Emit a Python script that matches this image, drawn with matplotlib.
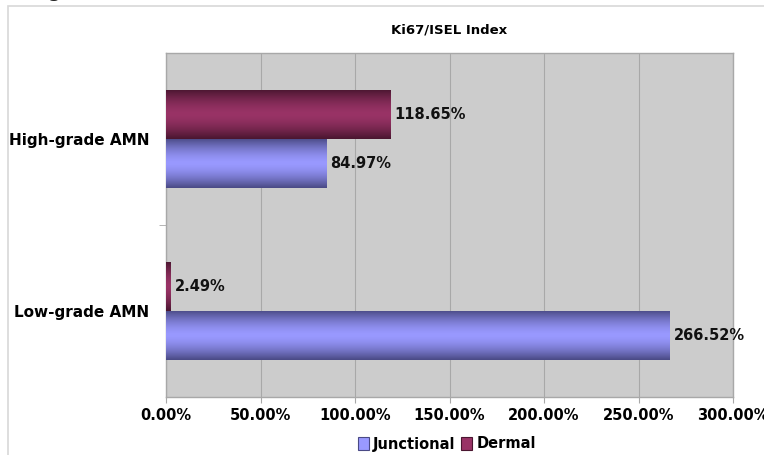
import numpy as np
import matplotlib.pyplot as plt
from matplotlib.colors import to_rgb
from matplotlib.patches import Rectangle, Patch

categories = ["Low-grade AMN", "High-grade AMN"]
series_names = ["Junctional", "Dermal"]
junctional = [266.52, 84.97]
dermal = [2.49, 118.65]
xticks = [0, 50, 100, 150, 200, 250, 300]

base_colors = {"Junctional": "#9999ff", "Dermal": "#993366"}
edge_colors = {"Junctional": "#4a4a85", "Dermal": "#4a1630"}

fig = plt.figure(figsize=(7.64, 4.55), dpi=100)
W, H = 764, 455

# outer chart frame
fig.patches.append(Rectangle((8 / W, -0.1), 1.2, 1.1 - 6 / H, transform=fig.transFigure,
                             facecolor="white", edgecolor="#d8d8d8", lw=1.2, zorder=-5))
fig.text(30 / W, 1.0 + 8 / H, "Figure 11", fontsize=13, fontweight="bold",
         ha="left", va="center", color="#222222")

ax = fig.add_axes([166 / W, 1 - 397 / H, (733 - 166) / W, (397 - 53) / H])
ax.set_zorder(2)
ax.set_facecolor("#cccccc")
for s in ax.spines.values():
    s.set_color("#a8a8a8")
    s.set_linewidth(1.0)

bar_h = 0.285
y = np.arange(len(categories))


def gradient_bars(vals, offset, name):
    grad = np.abs(np.linspace(-1, 1, 64))[:, None]
    c0 = np.array(to_rgb(base_colors[name]))
    c1 = np.array(to_rgb(edge_colors[name]))
    t = grad ** 1.6
    img = (c0[None, None, :] * (1 - t[..., None]) + c1[None, None, :] * t[..., None])
    bars = ax.barh(y + offset, vals, height=bar_h, color=base_colors[name],
                   edgecolor="none", zorder=2, label=name)
    for b in bars:
        x0, y0 = b.get_x(), b.get_y()
        w, h = b.get_width(), b.get_height()
        im = ax.imshow(img, extent=[x0, x0 + w, y0, y0 + h], aspect="auto",
                       interpolation="bicubic", zorder=3)
        im.set_clip_path(b)
    return bars


gradient_bars(junctional, -bar_h / 2, "Junctional")
gradient_bars(dermal, bar_h / 2, "Dermal")

for yi, v in zip(y - bar_h / 2, junctional):
    ax.text(v + 2, yi, f"{v:.2f}%", va="center", ha="left", fontsize=10.5,
            fontweight="bold", color="#111111", zorder=4)
for yi, v in zip(y + bar_h / 2, dermal):
    ax.text(v + 2, yi, f"{v:.2f}%", va="center", ha="left", fontsize=10.5,
            fontweight="bold", color="#111111", zorder=4)

ax.set_xlim(0, 300)
ax.set_ylim(-0.5, len(categories) - 0.5)
ax.set_xticks(xticks)
ax.set_xticklabels([f"{t:.2f}%" for t in xticks], fontsize=10.5, fontweight="bold")
ax.set_yticks(y)
ax.set_yticklabels(categories, fontsize=11, fontweight="bold")
ax.set_yticks([0.5], minor=True)
ax.tick_params(axis="y", which="major", length=0, pad=12)
ax.tick_params(axis="y", which="minor", length=5, color="#a8a8a8")
ax.tick_params(axis="x", length=4, color="#a8a8a8", pad=4)
ax.grid(axis="x", color="#a8a8a8", lw=0.8, zorder=1)
ax.set_axisbelow(True)

ax.set_title("Ki67/ISEL Index", fontsize=9.5, fontweight="bold", pad=14)

handles = [Patch(facecolor=base_colors[n], edgecolor=edge_colors[n], lw=0.8) for n in series_names]
fig.legend(handles, series_names, loc="center", bbox_to_anchor=(447 / W, 1 - 444 / H),
           ncol=2, frameon=False, prop={"weight": "bold", "size": 10.5},
           handlelength=0.75, handleheight=1.0, handletextpad=0.3, columnspacing=0.4)

fig.savefig("out.png", dpi=100)
